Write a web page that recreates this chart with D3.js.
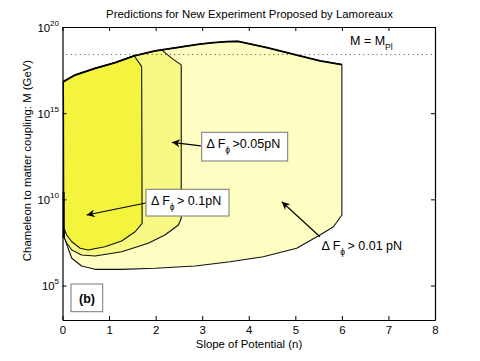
<!DOCTYPE html>
<html><head><meta charset="utf-8">
<script src="https://cdn.jsdelivr.net/npm/d3@7"></script>
<style>
body{margin:0;background:#fff;}
text{font-family:"Liberation Sans",Arial,Helvetica,sans-serif;fill:#000;}
</style></head>
<body><svg id="c" width="480" height="361"></svg>
<script>
// ---- data (n = slope of potential, logM = log10 of coupling M in GeV) ----
const xTicks = [0,1,2,3,4,5,6,7,8];
const yTickExp = [5,10,15,20];
const planckLogM = 18.4;

// shared upper boundary (n, log10 M)
const topCurve = [[0.02,16.83],[0.27,17.21],[0.70,17.60],[1.13,17.93],[1.54,18.33],
  [1.99,18.61],[2.13,18.67],[2.59,18.86],[2.95,19.01],[3.24,19.09],[3.53,19.15],
  [3.77,19.17],[4.39,18.81],[4.95,18.42],[5.53,18.04],[6.0,17.82]];

// dF > 0.1 pN (rest of boundary after leaving top curve at index 4)
const innerTopEnd = 4;
const innerEdge = [[1.70,17.70],[1.71,8.61],[1.56,8.12],[1.27,7.58],[0.91,7.25],
  [0.55,7.06],[0.38,7.16],[0.20,7.54],[0.09,7.93],[0.03,8.34]];

// dF > 0.05 pN (leaves top curve at index 6)
const middleTopEnd = 6;
const middleEdge = [[2.35,18.18],[2.55,17.80],[2.55,8.90],[2.49,8.51],[2.20,7.93],
  [1.84,7.45],[1.27,6.96],[0.70,6.71],[0.41,6.77],[0.20,7.06],[0.09,7.47],[0.04,7.76]];

// dF > 0.01 pN (uses whole top curve)
const outerEdge = [[6.0,9.09],[5.82,8.41],[5.53,7.93],[5.03,7.16],[4.31,6.67],
  [3.60,6.38],[2.85,6.13],[1.99,6.00],[1.27,5.94],[0.70,5.94],[0.41,6.13],
  [0.20,6.58],[0.12,7.16],[0.06,7.64],[0.03,8.10]];

const leftEdge = [[0.025,10.43],[0.025,7.75]];

// annotation arrows: [from, to] in (n, log10 M)
const arrow005 = [[2.97,13.10],[2.35,13.31]];
const arrow01  = [[1.79,9.79],[0.52,9.09]];
const arrow001 = [[5.53,7.83],[4.71,9.86]];

// ---- chart ----
const svg = d3.select("#c");
const x = d3.scaleLinear().domain([0,8]).range([62.5,435]);
const y = d3.scaleLog().domain([1e3,1e20]).range([320,27]);
const P = d => [x(d[0]), y(Math.pow(10,d[1]))];
const line = d3.line().x(d=>P(d)[0]).y(d=>P(d)[1]);

const regions = [
  {pts: topCurve.concat(outerEdge), fill:"#FEFEC2"},
  {pts: topCurve.slice(0,middleTopEnd+1).concat(middleEdge), fill:"#F8F884"},
  {pts: topCurve.slice(0,innerTopEnd+1).concat(innerEdge), fill:"#F4F43E"}
];
regions.forEach(r=>{
  svg.append("path").attr("d", line(r.pts)+"Z").attr("fill",r.fill)
    .attr("stroke","#111").attr("stroke-width",1.1).attr("stroke-linejoin","round");
});
svg.append("path").attr("d", line(topCurve)).attr("fill","none")
  .attr("stroke","#000").attr("stroke-width",1.8);
svg.append("path").attr("d", line(leftEdge)).attr("fill","none")
  .attr("stroke","#000").attr("stroke-width",2);

// Planck line
svg.append("line").attr("x1",x(0.08)).attr("x2",x(8))
  .attr("y1",y(Math.pow(10,planckLogM))).attr("y2",y(Math.pow(10,planckLogM)))
  .attr("stroke","#444").attr("stroke-width",1).attr("stroke-dasharray","1,3.5");

// axes
const gB = svg.append("g").attr("transform","translate(0,320)")
  .call(d3.axisBottom(x).tickValues(xTicks).tickSizeInner(-4).tickSizeOuter(0));
const gT = svg.append("g").attr("transform","translate(0,27)")
  .call(d3.axisTop(x).tickValues(xTicks).tickSizeInner(-4).tickSizeOuter(0).tickFormat(""));
const yVals = yTickExp.map(e=>Math.pow(10,e));
const gL = svg.append("g").attr("transform","translate(62.5,0)")
  .call(d3.axisLeft(y).tickValues(yVals).tickSizeInner(-4).tickSizeOuter(0).tickFormat(""));
const gR = svg.append("g").attr("transform","translate(435,0)")
  .call(d3.axisRight(y).tickValues(yVals).tickSizeInner(-4).tickSizeOuter(0).tickFormat(""));
[gB,gT,gL,gR].forEach(g=>{
  g.selectAll(".domain").attr("stroke","#000").attr("stroke-width",1.2);
  g.selectAll(".tick line").attr("stroke","#000");
});
gB.selectAll(".tick text").attr("font-size","11.4px").attr("font-family","Liberation Sans, Arial")
  .attr("y",13.5).attr("dy",null);

// y tick labels as 10^k
yTickExp.forEach(e=>{
  const t = svg.append("text").attr("x",59).attr("y",y(Math.pow(10,e))+4.5)
    .attr("text-anchor","end").attr("font-size","11.4px");
  t.append("tspan").text("10");
  t.append("tspan").attr("dy",-6).attr("font-size","8px").text(String(e));
});

// titles
svg.append("text").attr("x",249.5).attr("y",18).attr("text-anchor","middle")
  .attr("font-size","11.4px").text("Predictions for New Experiment Proposed by Lamoreaux");
svg.append("text").attr("x",249).attr("y",348).attr("text-anchor","middle")
  .attr("font-size","11.4px").text("Slope of Potential (n)");
svg.append("text").attr("transform","translate(31,160.5) rotate(-90)")
  .attr("text-anchor","middle").attr("font-size","11.4px")
  .text("Chameleon to matter coupling: M (GeV)");

// M = M_Pl
const mp = svg.append("text").attr("x",350).attr("y",45).attr("font-size","12.5px");
mp.append("tspan").text("M = M");
mp.append("tspan").attr("dy",5).attr("font-size","8.5px").text("Pl");

// arrow marker
svg.append("defs").append("marker").attr("id","ah").attr("viewBox","0 0 10 10")
  .attr("refX",10).attr("refY",5).attr("markerWidth",10).attr("markerHeight",8)
  .attr("markerUnits","userSpaceOnUse").attr("orient","auto")
  .append("path").attr("d","M0,0 L10,5 L0,10 L3,5 Z").attr("fill","#000");

[arrow005, arrow01, arrow001].forEach(a=>{
  svg.append("path").attr("d", line(a)).attr("stroke","#000").attr("stroke-width",1.2)
    .attr("fill","none").attr("marker-end","url(#ah)");
});

function box(x0,y0,x1,y1){
  svg.append("rect").attr("x",x0).attr("y",y0).attr("width",x1-x0).attr("height",y1-y0)
    .attr("fill","#fff").attr("stroke","#777").attr("stroke-width",1);
}
function dF(xp, yp, rest){
  const t = svg.append("text").attr("x",xp).attr("y",yp).attr("font-size","12.5px");
  t.append("tspan").text("\u0394 F");
  t.append("tspan").attr("dy",5).attr("font-size","8.5px").text("\u03d5");
  t.append("tspan").attr("dy",-5).text(rest);
}
box(201.7,132.3,287.7,161);
dF(206.5,148,"\u2009>0.05pN");
box(146,189.3,229,216);
dF(151,205,"\u2009> 0.1pN");
dF(321.5,250,"\u2009> 0.01 pN");

// (b) label
box(71,284,102.7,311.7);
svg.append("text").attr("x",87).attr("y",302.5).attr("text-anchor","middle")
  .attr("font-size","12.5px").attr("font-weight","bold").text("(b)");
</script></body></html>
